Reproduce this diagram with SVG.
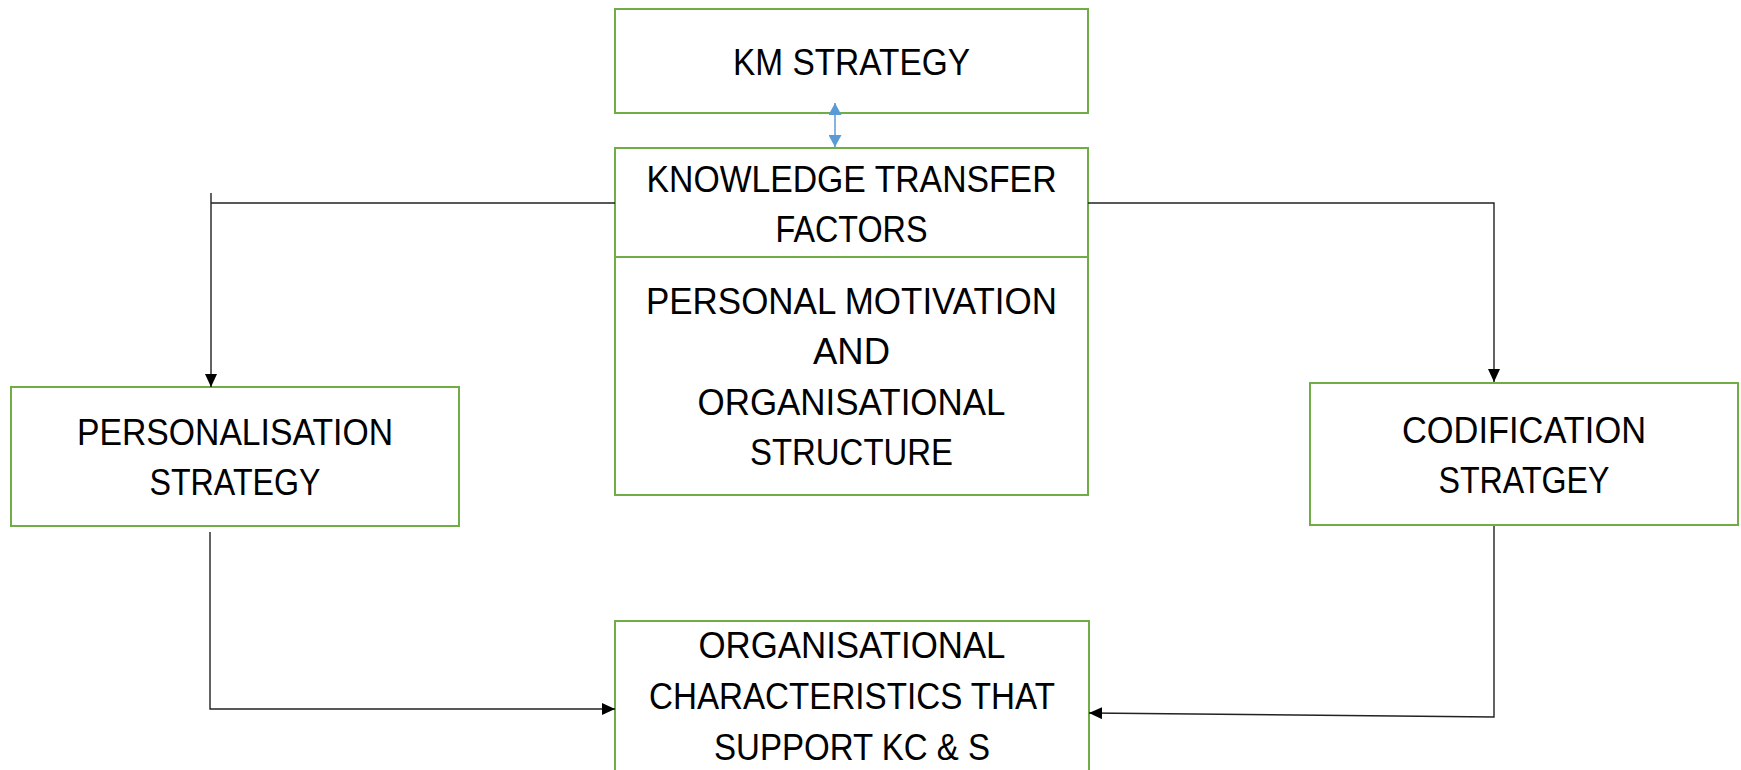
<svg xmlns="http://www.w3.org/2000/svg" width="1741" height="770" viewBox="0 0 1741 770">
  <style>
    .box { fill: #ffffff; stroke: #70AD47; stroke-width: 2; }
    .lbl { font-family: "Liberation Sans", Arial, sans-serif; font-size: 37px; fill: #000000; text-anchor: middle; }
    .con { fill: none; stroke: #222222; stroke-width: 1.4; }
    .blue { fill: none; stroke: #5B9BD5; stroke-width: 1.5; }
  </style>
  <defs>
    <marker id="arr" markerUnits="userSpaceOnUse" markerWidth="13" markerHeight="12" refX="13" refY="6" orient="auto">
      <path d="M0,0 L13,6 L0,12 z" fill="#000000"/>
    </marker>
    <marker id="barr" markerUnits="userSpaceOnUse" markerWidth="12" markerHeight="13" refX="12" refY="6.5" orient="auto">
      <path d="M0,0 L12,6.5 L0,13 z" fill="#5B9BD5"/>
    </marker>
    <marker id="barrs" markerUnits="userSpaceOnUse" markerWidth="12" markerHeight="13" refX="12" refY="6.5" orient="auto-start-reverse">
      <path d="M0,0 L12,6.5 L0,13 z" fill="#5B9BD5"/>
    </marker>
  </defs>
  <rect width="1741" height="770" fill="#ffffff"/>

  <g id="km-strategy">
    <rect class="box" x="615" y="9" width="473" height="104"/>
    <text class="lbl" x="851.5" y="75" textLength="237" lengthAdjust="spacingAndGlyphs">KM STRATEGY</text>
  </g>

  <g id="knowledge-transfer-factors">
    <rect class="box" x="615" y="148" width="473" height="347"/>
    <line x1="615" y1="257" x2="1088" y2="257" stroke="#70AD47" stroke-width="2"/>
    <text class="lbl" x="851.5" y="192" textLength="410" lengthAdjust="spacingAndGlyphs">KNOWLEDGE TRANSFER</text>
    <text class="lbl" x="851.5" y="242" textLength="152" lengthAdjust="spacingAndGlyphs">FACTORS</text>
    <text class="lbl" x="851.5" y="314" textLength="411" lengthAdjust="spacingAndGlyphs">PERSONAL MOTIVATION</text>
    <text class="lbl" x="851.5" y="364" textLength="77" lengthAdjust="spacingAndGlyphs">AND</text>
    <text class="lbl" x="851.5" y="415" textLength="308" lengthAdjust="spacingAndGlyphs">ORGANISATIONAL</text>
    <text class="lbl" x="851.5" y="465" textLength="203" lengthAdjust="spacingAndGlyphs">STRUCTURE</text>
  </g>

  <g id="personalisation-strategy">
    <rect class="box" x="11" y="387" width="448" height="139"/>
    <text class="lbl" x="235" y="445" textLength="316" lengthAdjust="spacingAndGlyphs">PERSONALISATION</text>
    <text class="lbl" x="235" y="495" textLength="171" lengthAdjust="spacingAndGlyphs">STRATEGY</text>
  </g>

  <g id="codification-strategy">
    <rect class="box" x="1310" y="383" width="428" height="142"/>
    <text class="lbl" x="1524" y="443" textLength="244" lengthAdjust="spacingAndGlyphs">CODIFICATION</text>
    <text class="lbl" x="1524" y="493" textLength="171" lengthAdjust="spacingAndGlyphs">STRATGEY</text>
  </g>

  <g id="organisational-characteristics">
    <rect class="box" x="615" y="621" width="474" height="160"/>
    <text class="lbl" x="852" y="658" textLength="307" lengthAdjust="spacingAndGlyphs">ORGANISATIONAL</text>
    <text class="lbl" x="852" y="709" textLength="406" lengthAdjust="spacingAndGlyphs">CHARACTERISTICS THAT</text>
    <text class="lbl" x="852" y="760" textLength="276" lengthAdjust="spacingAndGlyphs">SUPPORT KC &amp; S</text>
  </g>

  <g id="connectors">
    <path class="blue" d="M835,103 V147" marker-start="url(#barrs)" marker-end="url(#barr)"/>
    <path class="con" d="M615,203 H211 M211,193 V387" marker-end="url(#arr)"/>
    <path class="con" d="M1088,203 H1494 V382" marker-end="url(#arr)"/>
    <path class="con" d="M210,532 V709 H615" marker-end="url(#arr)"/>
    <path class="con" d="M1494,526 V717 L1089,713" marker-end="url(#arr)"/>
  </g>
</svg>
